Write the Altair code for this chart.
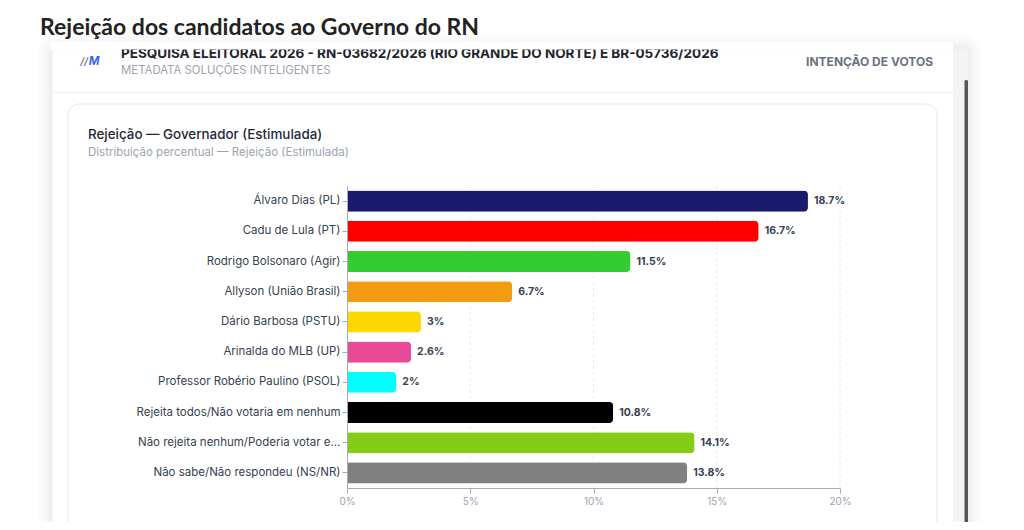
import altair as alt
import pandas as pd

# ---------------- data ----------------
labels = [
    "Álvaro Dias (PL)",
    "Cadu de Lula (PT)",
    "Rodrigo Bolsonaro (Agir)",
    "Allyson (União Brasil)",
    "Dário Barbosa (PSTU)",
    "Arinalda do MLB (UP)",
    "Professor Robério Paulino (PSOL)",
    "Rejeita todos/Não votaria em nenhum",
    "Não rejeita nenhum/Poderia votar e…",
    "Não sabe/Não respondeu (NS/NR)",
]
values = [18.7, 16.7, 11.5, 6.7, 3, 2.6, 2, 10.8, 14.1, 13.8]
colors = ["#1b1b6d", "#ff0000", "#33cc33", "#f39c12", "#ffd700",
          "#e84a97", "#00ffff", "#000000", "#84cc16", "#808080"]
x_ticks = [0, 5, 10, 15, 20]
grid_vals = [5, 10, 15, 20]

page_title = "Rejeição dos candidatos ao Governo do RN"
header_title = "PESQUISA ELEITORAL 2026 - RN-03682/2026 (RIO GRANDE DO NORTE) E BR-05736/2026"
header_sub = "METADATA SOLUÇÕES INTELIGENTES"
header_right = "INTENÇÃO DE VOTOS"
card_title = "Rejeição — Governador (Estimulada)"
card_sub = "Distribuição percentual — Rejeição (Estimulada)"

df = pd.DataFrame({"label": labels, "value": values})

# plot origin on the page (for decoration placement)
OX, OY = 347, 186
def px(x):
    return x - OX
def py(y):
    return y - OY

one = alt.Data(values=[{"k": 0}])
FONT = "Inter"

def rect(x1, x2, y1, y2, **kw):
    return alt.Chart(one).mark_rect(**kw).encode(
        x=alt.value(px(x1)), x2=alt.value(px(x2)),
        y=alt.value(py(y1)), y2=alt.value(py(y2)))

def text(t, x, y, **kw):
    return alt.Chart(one).mark_text(text=t, baseline="alphabetic", **kw).encode(
        x=alt.value(px(x)), y=alt.value(py(y)))

layers = []
# soft shadow around the outer card
for d, op in [(14, 0.010), (10, 0.012), (6, 0.016), (3, 0.02)]:
    layers.append(rect(52 - d, 968 + d, 47 - d, 560, fill="#000000", opacity=op, cornerRadius=d + 4))
# outer card
layers.append(rect(52, 968, 49, 560, fill="#ffffff", stroke="#eeeeee", strokeWidth=1))
# scrollbar
layers.append(rect(953, 968, 49, 560, fill="#f3f3f3"))
layers.append(rect(964.5, 968, 80, 560, fill="#555555", cornerRadius=1.5))
# header divider
layers.append(rect(52, 953, 92, 93, fill="#f0f0f1"))
# inner card
layers.append(rect(68, 937, 104, 600, fill="#ffffff", stroke="#e6e7ea", strokeWidth=1, cornerRadius=11))

# header texts
layers.append(text(header_title, 121, 57.5, font=FONT, fontSize=13.5, fontWeight="bold", color="#1f2430", align="left"))
# top of the header is scrolled out of view
layers.append(rect(50, 953, 42, 49.5, fill="#ffffff"))
layers.append(text(header_sub, 121, 73.5, font=FONT, fontSize=11.4, color="#9ca3af", align="left"))
layers.append(text(header_right, 933, 66, font=FONT, fontSize=12, fontWeight="bold", color="#6b7280", align="right"))
# logo
layers.append(text("//", 84, 64.5, font=FONT, fontSize=10, fontWeight="bold", fontStyle="italic", color="#7d828c", align="center"))
layers.append(text("M", 94, 64.5, font=FONT, fontSize=11.5, fontWeight="bold", fontStyle="italic", color="#3b66f0", align="center"))

# page title
layers.append(text(page_title, 40, 35, font="Lato", fontSize=23, fontWeight="bold", color="#222222", align="left"))
# card titles
layers.append(text(card_title, 88, 138.5, font=FONT, fontSize=13.4, fontWeight=500, color="#1f2937", align="left"))
layers.append(text(card_sub, 88, 155.5, font=FONT, fontSize=11.5, color="#9ca3af", align="left"))

# ---------------- chart ----------------
xscale = alt.Scale(domain=[0, 20], nice=False)
yscale = alt.Scale(domain=labels, paddingInner=0.3, paddingOuter=0.15)

grid = alt.Chart(pd.DataFrame({"g": grid_vals})).mark_rule(
    color="#e9eaee", strokeDash=[3, 3], strokeWidth=1
).encode(x=alt.X("g:Q", scale=xscale))

bars = alt.Chart(df).mark_bar(cornerRadiusEnd=4).encode(
    x=alt.X("value:Q", scale=xscale, title=None,
            axis=alt.Axis(values=x_ticks, labelExpr="datum.value + '%'", grid=False,
                          domainColor="#a7abb3", tickColor="#a7abb3", tickSize=5,
                          labelColor="#9ca3af", labelFont=FONT, labelFontSize=10,
                          labelPadding=3, labelFlush=False, zindex=1)),
    y=alt.Y("label:N", scale=yscale, sort=labels, title=None,
            axis=alt.Axis(domainColor="#a7abb3", tickColor="#a7abb3", tickSize=5,
                          labelColor="#374151", labelFont=FONT, labelFontSize=11.5,
                          labelPadding=2, labelLimit=300, zindex=1)),
    color=alt.Color("label:N", scale=alt.Scale(domain=labels, range=colors), legend=None),
)

vals = alt.Chart(df).transform_calculate(lbl="datum.value + '%'").mark_text(
    align="left", baseline="middle", dx=6, font=FONT, fontSize=10.5,
    fontWeight="bold", color="#374151"
).encode(
    x=alt.X("value:Q", scale=xscale),
    y=alt.Y("label:N", scale=yscale, sort=labels),
    text="lbl:N",
)

chart = alt.layer(*layers, grid, bars, vals).properties(
    width=493, height=302,
    autosize=alt.AutoSizeParams(type="none"),
    padding={"left": 339, "top": 178, "right": 176, "bottom": 34},
    background="#ffffff",
).configure_view(stroke=None)

chart.save("out.html", embed_options={"renderer": "svg", "actions": False})
